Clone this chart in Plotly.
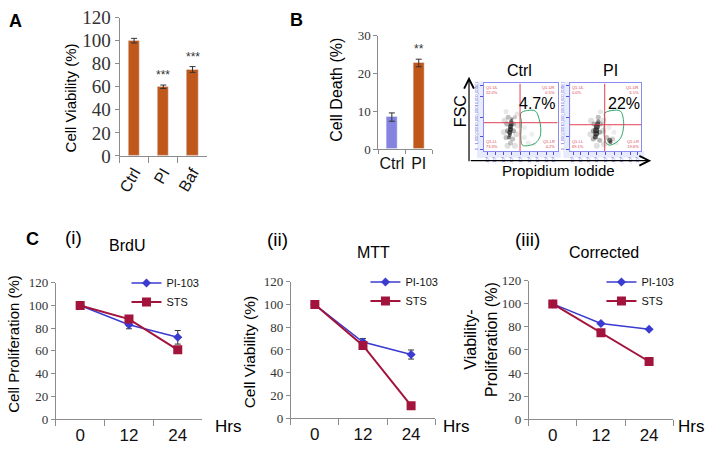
import plotly.graph_objects as go

W, H = 707, 453

def px(x):
    return x / W

def py(y):
    return 1 - y / H

# ---------------- data ----------------
# A: cell viability
a_groups = ["Ctrl", "PI", "Baf"]
a_values = [100, 60, 75]
a_errors = [2, 1.5, 2.5]
a_stars = ["", "***", "***"]

# B: cell death
b_groups = ["Ctrl", "PI"]
b_values = [8.5, 22.8]
b_errors = [1.1, 1.0]
b_stars = ["", "**"]

# B: flow cytometry (box coords 0..1)
flow_titles = ["Ctrl", "PI"]
flow_pct = ["4.7%", "22%"]
ctrl_quad = [0.49, 0.42]
pi_quad = [0.49, 0.39]
ctrl_gate_x = [0.50, 0.59, 0.70, 0.75, 0.77, 0.76, 0.70, 0.59, 0.52, 0.50, 0.51, 0.50]
ctrl_gate_y = [0.56, 0.60, 0.59, 0.47, 0.35, 0.21, 0.12, 0.08, 0.09, 0.24, 0.42, 0.56]
pi_gate_x = [0.49, 0.59, 0.71, 0.75, 0.75, 0.71, 0.64, 0.55, 0.50, 0.48, 0.49, 0.49]
pi_gate_y = [0.56, 0.60, 0.59, 0.47, 0.33, 0.19, 0.12, 0.09, 0.14, 0.33, 0.47, 0.56]
ctrl_cloud_x = [0.37, 0.37, 0.36, 0.36, 0.35, 0.35, 0.34, 0.38,
                0.32, 0.40, 0.31, 0.40, 0.33, 0.42, 0.30, 0.39, 0.36,
                0.28, 0.27, 0.44, 0.46, 0.32, 0.42, 0.30, 0.45,
                0.55, 0.60, 0.65, 0.55, 0.68]
ctrl_cloud_y = [0.44, 0.40, 0.36, 0.32, 0.28, 0.24, 0.20, 0.48,
                0.30, 0.30, 0.40, 0.40, 0.50, 0.50, 0.20, 0.18, 0.12,
                0.45, 0.28, 0.25, 0.38, 0.08, 0.08, 0.58, 0.55,
                0.20, 0.12, 0.25, 0.35, 0.10]
ctrl_cloud_s = [4, 5, 5, 5, 5, 4, 4, 3,
                5, 5, 5, 5, 5, 4, 5, 5, 5,
                6, 6, 6, 6, 6, 6, 5, 5,
                5, 5, 5, 5, 4]
ctrl_cloud_a = [0.9, 0.95, 1, 1, 1, 0.9, 0.8, 0.7,
                0.5, 0.5, 0.45, 0.45, 0.4, 0.35, 0.4, 0.4, 0.35,
                0.2, 0.2, 0.2, 0.18, 0.2, 0.18, 0.15, 0.15,
                0.12, 0.12, 0.1, 0.1, 0.1]
pi_cloud_x = [0.39, 0.38, 0.37, 0.37, 0.36, 0.40, 0.56, 0.57,
              0.33, 0.42, 0.34, 0.43, 0.40, 0.33, 0.42, 0.52, 0.60,
              0.30, 0.29, 0.47, 0.47, 0.38, 0.48, 0.43, 0.62, 0.65, 0.55]
pi_cloud_y = [0.40, 0.36, 0.31, 0.26, 0.21, 0.44, 0.16, 0.13,
              0.30, 0.28, 0.40, 0.40, 0.50, 0.18, 0.16, 0.20, 0.18,
              0.45, 0.25, 0.30, 0.45, 0.08, 0.10, 0.58, 0.28, 0.12, 0.35]
pi_cloud_s = [5, 6, 6, 6, 5, 4, 5, 4,
              5, 5, 5, 5, 5, 5, 5, 5, 5,
              6, 6, 6, 6, 6, 6, 5, 5, 5, 5]
pi_cloud_a = [0.9, 1, 1, 1, 0.95, 0.7, 0.85, 0.8,
              0.5, 0.5, 0.45, 0.45, 0.4, 0.45, 0.45, 0.35, 0.3,
              0.2, 0.2, 0.2, 0.18, 0.2, 0.2, 0.15, 0.12, 0.12, 0.12]
ctrl_quad_text = ["Q1-UL<br>22.0%", "Q1-UR<br>0.5%", "Q1-LL<br>73.3%", "Q1-LR<br>4.2%"]
pi_quad_text = ["Q1-UL<br>0.0%", "Q1-UR<br>3.1%", "Q1-LL<br>69.1%", "Q1-LR<br>19.6%"]

# C: time courses
hours = ["0", "12", "24"]
brdu_pi = [100, 83, 72]
brdu_pi_err = [0, 3.5, 6]
brdu_sts = [100, 88, 61]
brdu_sts_err = [0, 3, 2]
mtt_pi = [100, 67, 56]
mtt_pi_err = [0, 3, 4]
mtt_sts = [100, 64, 11]
mtt_sts_err = [0, 3, 1.5]
corr_pi = [100, 83, 78]
corr_sts = [100, 75, 50]

ORANGE = "#C0581C"
LILAC = "#8484E0"
BLUE = "#3B3BD0"
RED = "#A3143C"
GREY = "#8c8c8c"
SANS = "Liberation Sans, Arial, sans-serif"
SERIF = "Liberation Serif, Times New Roman, serif"

fig = go.Figure()

# ---------------- A ----------------
fig.add_trace(go.Bar(
    x=a_groups, y=a_values, width=0.38, marker_color=ORANGE,
    error_y=dict(type="data", array=a_errors, color="#333", thickness=1, width=3),
    xaxis="x", yaxis="y", showlegend=False))

# ---------------- B bars ----------------
fig.add_trace(go.Bar(
    x=b_groups, y=b_values, width=0.4, marker_color=[LILAC, ORANGE],
    error_y=dict(type="data", array=b_errors, color="#333", thickness=1, width=3),
    xaxis="x2", yaxis="y2", showlegend=False))

# ---------------- B flow ----------------
flows = [
    ("x3", "y3", ctrl_cloud_x, ctrl_cloud_y, ctrl_cloud_s, ctrl_cloud_a, ctrl_gate_x, ctrl_gate_y),
    ("x4", "y4", pi_cloud_x, pi_cloud_y, pi_cloud_s, pi_cloud_a, pi_gate_x, pi_gate_y),
]
for xa, ya, cx, cy, cs, ca, gx, gy in flows:
    fig.add_trace(go.Scatter(
        x=cx, y=cy, mode="markers", xaxis=xa, yaxis=ya, showlegend=False,
        marker=dict(size=cs, color=[f"rgba(25,25,25,{a})" for a in ca], line_width=0)))
    fig.add_trace(go.Scatter(
        x=gx, y=gy, mode="lines", xaxis=xa, yaxis=ya, showlegend=False,
        line=dict(color="#2EA66A", width=1, shape="spline")))

# ---------------- C ----------------
c_sets = [
    ("x5", "y5", "legend", brdu_pi, brdu_pi_err, brdu_sts, brdu_sts_err),
    ("x6", "y6", "legend2", mtt_pi, mtt_pi_err, mtt_sts, mtt_sts_err),
    ("x7", "y7", "legend3", corr_pi, None, corr_sts, None),
]
for xa, ya, lg, pv, pe, sv, se in c_sets:
    fig.add_trace(go.Scatter(
        x=hours, y=pv, name="PI-103", mode="lines+markers", xaxis=xa, yaxis=ya, legend=lg,
        line=dict(color=BLUE, width=1.5), marker=dict(symbol="diamond", size=7, color=BLUE),
        error_y=dict(type="data", array=pe, color="#333", thickness=1, width=3, visible=pe is not None)))
    fig.add_trace(go.Scatter(
        x=hours, y=sv, name="STS", mode="lines+markers", xaxis=xa, yaxis=ya, legend=lg,
        line=dict(color=RED, width=2), marker=dict(symbol="square", size=9, color=RED),
        error_y=dict(type="data", array=se, color="#333", thickness=1, width=3, visible=se is not None)))

# ---------------- axes ----------------
def cat_x(x0, x1, anchor, n, size, angle=0, ticklen=6):
    return dict(domain=[px(x0), px(x1)], anchor=anchor, type="category", range=[-0.5, n - 0.5],
                showline=True, linecolor=GREY, linewidth=1, ticks="outside", tickson="boundaries",
                ticklen=ticklen, tickcolor=GREY, tickangle=angle, showgrid=False, zeroline=False,
                tickfont=dict(family=SANS, size=size, color="#111"))

def val_y(y0, y1, anchor, rng, dtick, size):
    return dict(domain=[py(y1), py(y0)], anchor=anchor, range=rng, dtick=dtick,
                showline=True, linecolor=GREY, linewidth=1, ticks="outside", ticklen=4,
                tickcolor=GREY, showgrid=False, zeroline=False,
                tickfont=dict(family=SERIF, size=size, color="#333"))

layout_axes = {
    "xaxis": cat_x(117, 205, "y", 3, 16, -60),
    "yaxis": val_y(8, 153, "x", [0, 120], 20, 19),
    "xaxis2": cat_x(377, 431, "y2", 2, 16, 0, 4),
    "yaxis2": val_y(27, 146, "x2", [0, 30], 10, 13),
    "xaxis5": cat_x(53, 200, "y5", 3, 17),
    "yaxis5": val_y(286, 429, "x5", [0, 120], 20, 13),
    "xaxis6": cat_x(289, 434, "y6", 3, 17),
    "yaxis6": val_y(285, 428, "x6", [0, 120], 20, 13),
    "xaxis7": cat_x(528, 673, "y7", 3, 17),
    "yaxis7": val_y(284, 429, "x7", [0, 120], 20, 13),
}

flow_boxes = [("xaxis3", "yaxis3", "x3", "y3", 483, 557), ("xaxis4", "yaxis4", "x4", "y4", 569, 641)]
for xk, yk, xa, ya, x0, x1 in flow_boxes:
    layout_axes[xk] = dict(domain=[px(x0), px(x1)], anchor=ya, range=[0, 1], showline=True,
                           mirror=True, linecolor="#8C8CF0", linewidth=1, ticks="outside",
                           ticklen=3, tickcolor="#5050E0",
                           tickvals=[0.05, 0.15, 0.27, 0.38, 0.5, 0.62, 0.73, 0.85, 0.95],
                           ticktext=["-10³"] * 9, tickangle=-90,
                           tickfont=dict(size=4, color="#5050E0"), showgrid=False, zeroline=False)
    layout_axes[yk] = dict(domain=[py(148), py(77)], anchor=xa, range=[0, 1], showline=True,
                           mirror=True, linecolor="#8C8CF0", linewidth=1, ticks="outside",
                           ticklen=3, tickcolor="#5050E0",
                           tickvals=[0.02, 0.22, 0.5, 0.8, 0.97],
                           ticktext=["0", "1,000,000", "10,000,000", "10,000,000", "1E7"],
                           tickangle=-90, tickfont=dict(size=4, color="#5050E0"),
                           showgrid=False, zeroline=False)

# ---------------- shapes ----------------
shapes = []
for x0, x1 in [(476, 560), (563, 644)]:
    shapes.append(dict(type="rect", xref="paper", yref="paper", x0=px(x0), x1=px(x0 + 7),
                       y0=py(155), y1=py(75), fillcolor="#E8EBFB", line_width=0, layer="below"))
    shapes.append(dict(type="rect", xref="paper", yref="paper", x0=px(x0), x1=px(x1),
                       y0=py(155), y1=py(148), fillcolor="#E8EBFB", line_width=0, layer="below"))
for xa, ya, q in [("x3", "y3", ctrl_quad), ("x4", "y4", pi_quad)]:
    shapes.append(dict(type="line", xref=xa, yref=ya, x0=q[0], x1=q[0], y0=0, y1=1,
                       line=dict(color="#E04050", width=1)))
    shapes.append(dict(type="line", xref=xa, yref=ya, x0=0, x1=1, y0=q[1], y1=q[1],
                       line=dict(color="#E04050", width=1)))

# ---------------- annotations ----------------
ann = []

def label(x, y, text, size, family=SANS, color="#000", angle=0, bold=False, xanchor="center"):
    ann.append(dict(x=px(x), y=py(y), xref="paper", yref="paper", text=text, showarrow=False,
                    textangle=angle, xanchor=xanchor, yanchor="middle",
                    font=dict(family=family, size=size, color=color,
                              weight="bold" if bold else "normal")))

label(13, 12, "A", 18, bold=True)
label(295, 11, "B", 18, bold=True)
label(30, 240, "C", 18, bold=True)
label(68, 92, "Cell Viability (%)", 15, angle=-90)
label(335, 84, "Cell Death (%)", 16, angle=-90)
label(11, 350, "Cell Proliferation (%)", 15, angle=-90)
label(247, 358, "Cell Viability (%)", 15.5, angle=-90)
label(480, 345, "Viability-<br>Proliferation (%)", 16, angle=-90)
label(71, 239, "(i)", 19)
label(276, 241, "(ii)", 19)
label(527, 241, "(iii)", 19)
label(125, 247, "BrdU", 16)
label(372, 254, "MTT", 16)
label(604, 254, "Corrected", 16)
label(226, 437, "Hrs", 17)
label(455, 437, "Hrs", 17)
label(706, 437, "Hrs", 17, xanchor="right")

# stars above bars
for g, v, e, s in zip(a_groups, a_values, a_errors, a_stars):
    if s:
        ann.append(dict(x=g, y=v + e, xref="x", yref="y", text=s, showarrow=False, yshift=10,
                        font=dict(family=SANS, size=12, color="#333")))
for g, v, e, s in zip(b_groups, b_values, b_errors, b_stars):
    if s:
        ann.append(dict(x=g, y=v + e, xref="x2", yref="y2", text=s, showarrow=False, yshift=10,
                        font=dict(family=SANS, size=12, color="#333")))

# flow texts
label(519, 63, flow_titles[0], 16)
label(610, 63, flow_titles[1], 16)
label(536, 98, flow_pct[0], 16)
label(624, 98, flow_pct[1], 16)
label(459, 106, "FSC", 16, angle=-90)
label(558, 168, "Propidium Iodide", 15)
for xa, ya, texts in [("x3", "y3", ctrl_quad_text), ("x4", "y4", pi_quad_text)]:
    for (qx, qy, xan, yan), t in zip([(0.02, 0.99, "left", "top"), (0.98, 0.99, "right", "top"),
                                      (0.02, 0.01, "left", "bottom"), (0.98, 0.01, "right", "bottom")],
                                     texts):
        ann.append(dict(x=qx, y=qy, xref=xa, yref=ya, text=t, showarrow=False, xanchor=xan,
                        yanchor=yan, align="left" if xan == "left" else "right", borderpad=0,
                        font=dict(family=SANS, size=4, color="#E04050")))

# axis arrows
ann.append(dict(x=px(468), y=py(70), xref="paper", yref="paper", text="", showarrow=True,
                ax=0, ay=86, arrowhead=5, arrowsize=1.6, arrowwidth=1.2, arrowcolor="#000"))
ann.append(dict(x=px(651), y=py(158), xref="paper", yref="paper", text="", showarrow=True,
                ax=-182, ay=0, arrowhead=5, arrowsize=1.6, arrowwidth=1.2, arrowcolor="#000"))

# ---------------- legends ----------------
def leg(text_x, y_top):
    return dict(x=px(text_x - 42), y=py(y_top), xanchor="left", yanchor="top",
                bgcolor="rgba(0,0,0,0)", borderwidth=0, tracegroupgap=0,
                font=dict(family=SANS, size=11, color="#111"))

fig.update_layout(
    width=W, height=H,
    margin=dict(l=0, r=0, t=0, b=0),
    paper_bgcolor="white", plot_bgcolor="white",
    bargap=0,
    legend=leg(166, 271),
    legend2=leg(406, 270),
    legend3=leg(643, 270),
    shapes=shapes,
    annotations=ann,
    **layout_axes,
)

# page body has a default 8px margin; drop it so the figure sits at the window's corner
fig.write_html("out.html", config={"displayModeBar": False},
               post_script="document.body.style.margin='0';")
